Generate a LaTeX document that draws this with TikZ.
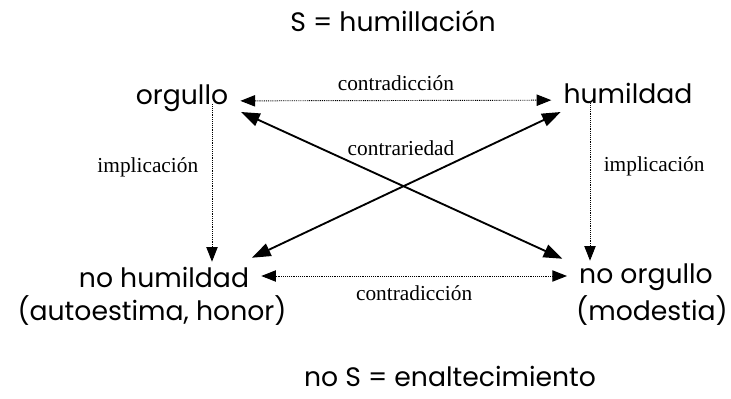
\documentclass[tikz,border=0pt]{standalone}
\usepackage{fontspec}
\setmainfont{Poppins}
\newfontfamily\smallserif{Liberation Serif}
\usetikzlibrary{arrows.meta}
\tikzset{
  concept/.style={font=\fontsize{20}{24}\selectfont, inner sep=2pt, text height=0.75em, text depth=0.2em},
  relname/.style={font=\smallserif\fontsize{16}{18}\selectfont, inner sep=1pt},
  contra/.style={{Triangle[length=11pt,width=8.5pt]}-{Triangle[length=11pt,width=8.5pt]}, line width=0.7pt, dash pattern=on 0.7pt off 0.7pt, shorten <=7pt, shorten >=7pt},
  impl/.style={-{Triangle[length=11pt,width=8.5pt]}, line width=0.7pt, dash pattern=on 0.7pt off 0.7pt},
  contrar/.style={{Triangle[length=14pt,width=10pt]}-{Triangle[length=14pt,width=10pt]}, line width=1.4pt}
}
\begin{document}
\begin{tikzpicture}[x=0.75pt,y=-0.75pt]
  \useasboundingbox (0,0) rectangle (731,399);
  % the four terms
  \node[concept] (title) at (393,28) {S = humillación};
  \node[concept] (orgullo) at (182,101) {orgullo};
  \node[concept] (humildad) at (628,100) {humildad};
  \node[concept] (nohum) at (164,284) {no humildad};
  \node[concept] (nohumsub) at (152,317) {(autoestima, honor)};
  \node[concept] (noorg) at (646,280) {no orgullo};
  \node[concept] (noorgsub) at (652,317) {(modestia)};
  \node[concept] (bottom) at (450,383) {no S = enaltecimiento};

  \draw[contra] (orgullo) -- (humildad) node[relname, midway, above=6pt] {contradicción};
  \draw[contra] ([yshift=6pt]nohum.east) -- ([yshift=3pt]noorg.west) node[relname, midway, below=6pt] {contradicción};

  \draw[impl] ([xshift=22.5pt,yshift=4.5pt]orgullo.south) -- ([xshift=36pt,yshift=9.75pt]nohum.north)
    node[relname, pos=0.4, left=9pt] {implicación};
  \draw[impl] ([xshift=-28.5pt,yshift=4.5pt]humildad.south) -- ([xshift=-42pt,yshift=7.5pt]noorg.north)
    node[relname, pos=0.4, right=9pt] {implicación};

  \draw[contrar] ([xshift=7.5pt,yshift=-8.25pt]orgullo.east) -- ([xshift=-10.5pt,yshift=9pt]noorg.north west);
  \draw[contrar] ([yshift=-9pt]humildad.west) -- ([yshift=12.75pt]nohum.north east);
  \node[relname] (contrariedad) at (401,148) {contrariedad};
\end{tikzpicture}
\end{document}
